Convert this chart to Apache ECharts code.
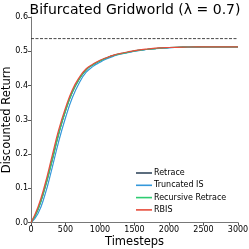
<!DOCTYPE html>
<html><head><meta charset="utf-8">
<script src="https://cdn.jsdelivr.net/npm/echarts@6/dist/echarts.min.js"></script>
<style>html,body{margin:0;padding:0;background:#fff}#c{width:249px;height:249px}</style>
</head><body><div id="c"></div>
<script>
const timesteps = [0,100,200,300,400,500,600,700,800,900,1000,1100,1200,1300,1400,1500,1600,1700,1800,1900,2000,2200,2400,2600,2800,3000];
const rbis      = [0,0.045,0.110,0.190,0.270,0.335,0.388,0.424,0.449,0.463,0.474,0.482,0.489,0.494,0.498,0.502,0.505,0.507,0.509,0.510,0.511,0.512,0.513,0.513,0.513,0.513];
const recursive = [0,0.038,0.100,0.177,0.258,0.326,0.381,0.419,0.446,0.461,0.472,0.481,0.488,0.493,0.497,0.501,0.504,0.506,0.508,0.510,0.511,0.512,0.513,0.513,0.513,0.513];
const truncIS   = [0,0.026,0.080,0.155,0.236,0.306,0.365,0.408,0.439,0.456,0.468,0.478,0.486,0.492,0.496,0.500,0.503,0.506,0.508,0.509,0.510,0.512,0.512,0.513,0.513,0.513];
const retrace   = recursive;
const optimalValue = 0.537;
const seriesNames = ['Retrace','Truncated IS','Recursive Retrace','RBIS'];
const colors = ['#34495e','#3498db','#2ecc71','#e74c3c'];
const zip = a => timesteps.map((t,i)=>[t,a[i]]);
const font = 'DejaVu Sans';
const chart = echarts.init(document.getElementById('c'));
const lineSeries = [retrace,truncIS,recursive,rbis].map((d,i)=>({
  name: seriesNames[i], type:'line', data: zip(d), smooth: true, showSymbol:false,
  lineStyle:{width:1.2,color:colors[i]}, itemStyle:{color:colors[i]}, z: 2+i
}));
chart.setOption({
  animation:false,
  title:{text:'Bifurcated Gridworld (λ = 0.7)',left:130,top:-2,textAlign:'center',
    textStyle:{fontFamily:font,fontSize:14,fontWeight:'normal',color:'#000'}},
  grid:{left:31,right:11,top:17,bottom:26.3,containLabel:false,outerBoundsMode:'none'},
  legend:{data:seriesNames,orient:'vertical',left:131,top:164,itemWidth:16,itemHeight:8,itemGap:4.3,
    icon:'path://M0,0 L16,0 L16,1.6 L0,1.6 Z',
    textStyle:{fontFamily:font,fontSize:8,color:'#000',padding:[0,0,0,-3]}},
  xAxis:{type:'value',min:0,max:3000,interval:500,name:'Timesteps',nameLocation:'middle',nameGap:13,nameMoveOverlap:false,
    nameTextStyle:{fontFamily:font,fontSize:11.5,color:'#000',verticalAlign:'top'},
    axisLine:{lineStyle:{color:'#555',width:0.8}},axisTick:{length:3,lineStyle:{color:'#555'}},
    axisLabel:{fontFamily:font,fontSize:8,color:'#000',margin:3,formatter:v=>String(v)},splitLine:{show:false}},
  yAxis:{type:'value',min:0,max:0.6,interval:0.1,name:'Discounted Return',nameLocation:'middle',nameGap:18,nameMoveOverlap:false,
    nameTextStyle:{fontFamily:font,fontSize:11.5,color:'#000',verticalAlign:'bottom'},
    axisLine:{show:true,lineStyle:{color:'#555',width:0.8}},axisTick:{show:true,length:3,lineStyle:{color:'#555'}},
    axisLabel:{fontFamily:font,fontSize:8,color:'#000',margin:3,formatter:v=>v.toFixed(1)},splitLine:{show:false}},
  series:[{name:'optimal',type:'line',data:[[0,optimalValue],[3000,optimalValue]],showSymbol:false,
    lineStyle:{type:[3,1.5],width:0.9,color:'#333'},z:1}].concat(lineSeries)
});
</script></body></html>
